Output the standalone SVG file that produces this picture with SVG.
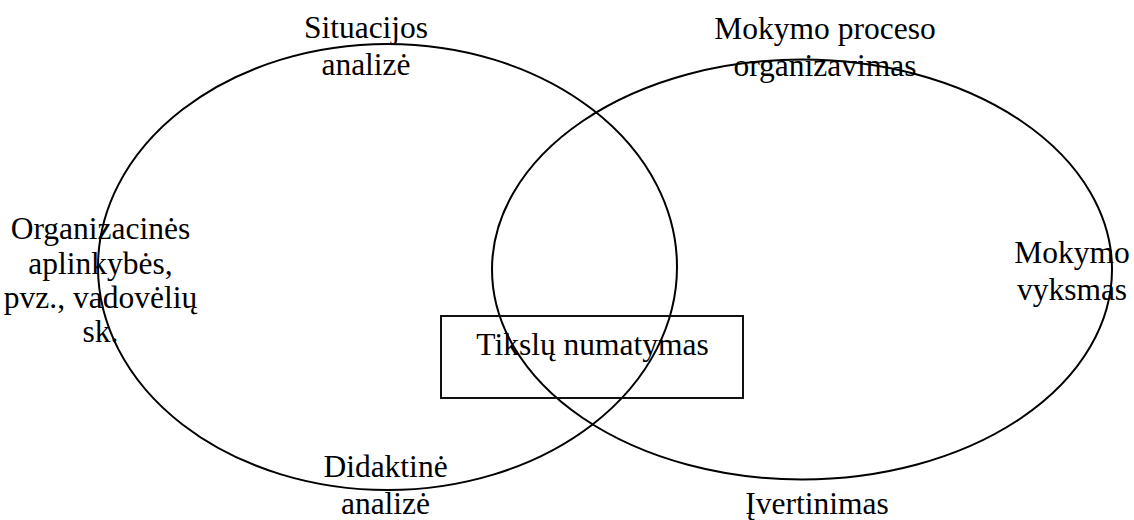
<svg xmlns="http://www.w3.org/2000/svg" width="1134" height="520" viewBox="0 0 1134 520">
<style>
.e{fill:none;stroke:#000;stroke-width:2}
.r{fill:none;stroke:#111;stroke-width:2}
text{font-family:"Liberation Serif","Times New Roman",serif;font-size:31.5px;fill:#000;text-anchor:middle}
</style>
<rect width="1134" height="520" fill="#fff"/>
<g id="connectors"/>
<g id="ellipse-left"><ellipse class="e" cx="387.5" cy="267" rx="289.5" ry="223"/></g>
<g id="ellipse-right"><ellipse class="e" cx="802" cy="269.5" rx="310" ry="210"/></g>
<g id="goal"><rect class="r" x="441" y="316" width="302" height="82"/><text x="592.5" y="355">Tikslų numatymas</text></g>
<g id="situacijos"><text x="366" y="38">Situacijos</text><text x="366" y="75">analizė</text></g>
<g id="mokymo-proceso"><text x="825" y="39">Mokymo proceso</text><text x="825" y="76">organizavimas</text></g>
<g id="organizacines"><text x="100.5" y="239">Organizacinės</text><text x="100.5" y="274">aplinkybės,</text><text x="100.5" y="308">pvz., vadovėlių</text><text x="100.5" y="342">sk.</text></g>
<g id="mokymo-vyksmas"><text x="1072" y="263">Mokymo</text><text x="1072" y="300">vyksmas</text></g>
<g id="didaktine"><text x="385.5" y="477">Didaktinė</text><text x="385.5" y="514">analizė</text></g>
<g id="ivertinimas"><text x="817" y="514">Įvertinimas</text></g>
</svg>
